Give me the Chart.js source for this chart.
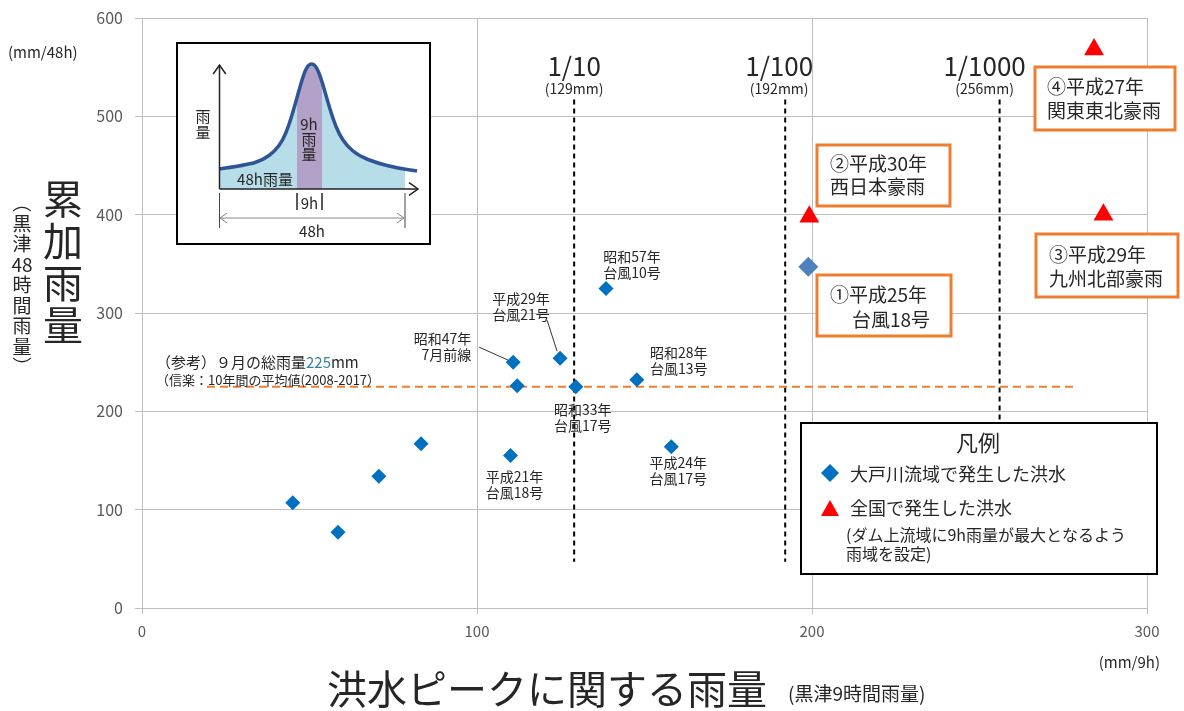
<!DOCTYPE html>
<html lang="ja">
<head>
<meta charset="utf-8">
<script src="https://cdn.jsdelivr.net/npm/chart.js@4/dist/chart.umd.min.js"></script>
<style>
  html, body { margin: 0; padding: 0; background: #fff; }
</style>
</head>
<body>
<canvas id="chart" width="1184" height="711"></canvas>
<script>
// 大戸川流域で発生した洪水 (9h雨量, 48h雨量)
const basinX = [45, 58.5, 70.7, 83.3, 110, 110.8, 112, 124.8, 129.5, 138.5, 147.7, 158];
const basinY = [107, 77, 134, 167, 155, 250, 226, 254, 225, 325, 232, 164];
// ①平成25年 台風18号
const caseX = [198.9];
const caseY = [347];
// 全国で発生した洪水 (②, ③, ④)
const nationalX = [199.2, 287, 284.2];
const nationalY = [398, 400, 568];
// 確率規模 (9h雨量)
const periodLabels = ['1/10', '1/100', '1/1000'];
const periodRain = [129, 192, 256];
// 9月の総雨量
const refRain = 225;

const FONT = '"Noto Sans CJK JP", "Noto Sans", sans-serif';
const TXT = '#262626';

// 点のラベル (basin index, 行, ずらし)
const pointLabels = [
  { i: 9, lines: ['昭和57年', '台風10号'], dx: 26, dy: -32 },
  { i: 7, lines: ['平成29年', '台風21号'], dx: -39, dy: -60, lead: [-13, -38, -3, -7] },
  { i: 5, lines: ['昭和47年', '7月前線'], dx: -42, dy: -23, align: 'right', lead: [-34, -15, -5, -2] },
  { i: 10, lines: ['昭和28年', '台風13号'], dx: 42, dy: -27 },
  { i: 8, lines: ['昭和33年', '台風17号'], dx: 7, dy: 23 },
  { i: 11, lines: ['平成24年', '台風17号'], dx: 7, dy: 16 },
  { i: 4, lines: ['平成21年', '台風18号'], dx: 4, dy: 21 }
];

const caseBoxes = [
  { box: [1035, 67, 140, 63], lines: ['④平成27年', '関東東北豪雨'], tx: [1047, 1047], ty: [87, 111] },
  { box: [817, 145, 133, 61], lines: ['②平成30年', '西日本豪雨'], tx: [830, 830], ty: [164, 187] },
  { box: [817, 275, 134, 61], lines: ['①平成25年', '台風18号'], tx: [830, 852], ty: [295, 320] },
  { box: [1036, 234, 142, 63], lines: ['③平成29年', '九州北部豪雨'], tx: [1049, 1049], ty: [255, 279] }
];

function text(ctx, s, x, y, size, opt = {}) {
  ctx.save();
  ctx.font = (opt.weight || 'normal') + ' ' + size + 'px ' + FONT;
  ctx.fillStyle = opt.color || TXT;
  ctx.textAlign = opt.align || 'left';
  ctx.textBaseline = 'middle';
  ctx.fillText(s, x, y);
  ctx.restore();
}

function vtext(ctx, chars, x, y0, step, size) {
  chars.forEach((c, k) => text(ctx, c, x, y0 + k * step, size, { align: 'center' }));
}

function line(ctx, x1, y1, x2, y2, color, w) {
  ctx.save();
  ctx.strokeStyle = color;
  ctx.lineWidth = w;
  ctx.beginPath();
  ctx.moveTo(x1, y1);
  ctx.lineTo(x2, y2);
  ctx.stroke();
  ctx.restore();
}

function chevron(ctx, x, y, dir, color, w, s) {
  ctx.save();
  ctx.strokeStyle = color;
  ctx.lineWidth = w;
  ctx.beginPath();
  if (dir === 'up') { ctx.moveTo(x - s * 0.7, y + s); ctx.lineTo(x, y); ctx.lineTo(x + s * 0.7, y + s); }
  if (dir === 'right') { ctx.moveTo(x - s, y - s * 0.7); ctx.lineTo(x, y); ctx.lineTo(x - s, y + s * 0.7); }
  if (dir === 'left') { ctx.moveTo(x + s, y - s * 0.7); ctx.lineTo(x, y); ctx.lineTo(x + s, y + s * 0.7); }
  ctx.stroke();
  ctx.restore();
}

function drawInset(ctx, ox, oy) {
  ctx.save();
  ctx.fillStyle = '#fff';
  ctx.fillRect(ox, oy, 253, 201);
  ctx.strokeStyle = '#000';
  ctx.lineWidth = 2;
  ctx.strokeRect(ox, oy, 253, 201);
  ctx.translate(ox, oy);

  const pts = [[42, 126], [70, 122], [86, 117], [98, 108], [106, 97], [112, 82], [118, 62], [124, 40],
    [129, 25], [134, 20], [139, 23], [144, 35], [150, 56], [156, 76], [162, 91], [170, 103],
    [182, 113], [200, 120], [220, 125], [240, 128]];
  const curve = (p) => {
    p.moveTo(pts[0][0], pts[0][1]);
    for (let k = 1; k < pts.length - 1; k++) {
      const mx = (pts[k][0] + pts[k + 1][0]) / 2, my = (pts[k][1] + pts[k + 1][1]) / 2;
      p.quadraticCurveTo(pts[k][0], pts[k][1], mx, my);
    }
    p.lineTo(pts[pts.length - 1][0], pts[pts.length - 1][1]);
  };
  const area = new Path2D();
  curve(area);
  area.lineTo(240, 146);
  area.lineTo(42, 146);
  area.closePath();

  ctx.save();
  ctx.beginPath();
  ctx.rect(42, 0, 186, 146);
  ctx.clip();
  ctx.fillStyle = '#B7DEE8';
  ctx.fill(area);
  ctx.restore();

  ctx.save();
  ctx.beginPath();
  ctx.rect(120, 0, 25, 146);
  ctx.clip();
  ctx.fillStyle = '#B3A2C7';
  ctx.fill(area);
  ctx.restore();

  const stroke = new Path2D();
  curve(stroke);
  ctx.strokeStyle = '#2F5597';
  ctx.lineWidth = 3.5;
  ctx.stroke(stroke);

  // 軸
  line(ctx, 42.5, 146, 42.5, 22, '#222', 1.5);
  chevron(ctx, 42.5, 22, 'up', '#222', 1.5, 9);
  line(ctx, 42.5, 146, 241, 146, '#222', 1.5);
  chevron(ctx, 241, 146, 'right', '#222', 1.5, 9);

  text(ctx, '雨', 26, 73, 15, { align: 'center' });
  text(ctx, '量', 26, 89, 15, { align: 'center' });
  text(ctx, '9h', 132, 81, 15, { align: 'center' });
  text(ctx, '雨', 132, 96, 15, { align: 'center' });
  text(ctx, '量', 132, 111, 15, { align: 'center' });
  text(ctx, '48h雨量', 88, 136, 15, { align: 'center' });

  line(ctx, 120, 150, 120, 167, '#222', 1.5);
  line(ctx, 145, 150, 145, 167, '#222', 1.5);
  text(ctx, '9h', 132.5, 160, 15, { align: 'center' });

  line(ctx, 42.5, 150, 42.5, 185, '#444', 1);
  line(ctx, 228, 150, 228, 185, '#444', 1);
  line(ctx, 43, 175, 227, 175, '#888', 1);
  chevron(ctx, 43, 175, 'left', '#888', 1, 7);
  chevron(ctx, 227, 175, 'right', '#888', 1, 7);
  text(ctx, '48h', 135, 188, 15, { align: 'center' });
  ctx.restore();
}

function drawLegend(ctx) {
  ctx.save();
  ctx.fillStyle = '#fff';
  ctx.fillRect(801, 423, 356, 151);
  ctx.strokeStyle = '#000';
  ctx.lineWidth = 2;
  ctx.strokeRect(801, 423, 356, 151);
  text(ctx, '凡例', 978, 443, 22, { align: 'center' });

  ctx.fillStyle = '#0070C0';
  ctx.beginPath();
  ctx.moveTo(830, 464); ctx.lineTo(839, 473); ctx.lineTo(830, 482); ctx.lineTo(821, 473);
  ctx.closePath();
  ctx.fill();
  text(ctx, '大戸川流域で発生した洪水', 850, 474, 18);

  ctx.fillStyle = '#FF0000';
  ctx.beginPath();
  ctx.moveTo(830, 500); ctx.lineTo(839, 516); ctx.lineTo(821, 516);
  ctx.closePath();
  ctx.fill();
  text(ctx, '全国で発生した洪水', 850, 508, 18);
  text(ctx, '(ダム上流域に9h雨量が最大となるよう', 846, 535, 16);
  text(ctx, '雨域を設定)', 846, 554, 16);
  ctx.restore();
}

const annotations = {
  id: 'annotations',
  afterDatasetsDraw(chart) {
    const { ctx, scales: { x, y } } = chart;

    // 確率規模ラベル
    periodLabels.forEach((lab, k) => {
      const off = [0, -6, -15][k];
      const px = x.getPixelForValue(periodRain[k]) + off;
      text(ctx, lab, px, 66, 26, { align: 'center' });
      text(ctx, '(' + periodRain[k] + 'mm)', px, 89, 14, { align: 'center' });
    });

    // 参考値
    ctx.save();
    ctx.font = '15px ' + FONT;
    const s1 = '（参考）９月の総雨量';
    const w1 = ctx.measureText(s1).width;
    const w2 = ctx.measureText(String(refRain)).width;
    ctx.restore();
    text(ctx, s1, 156, 362, 15);
    text(ctx, String(refRain), 156 + w1, 362, 15, { color: '#31849B' });
    text(ctx, 'mm', 156 + w1 + w2, 362, 15);
    text(ctx, '（信楽：10年間の平均値(2008-2017）', 156, 380, 13);

    // 点ラベル
    pointLabels.forEach(p => {
      const px = x.getPixelForValue(basinX[p.i]);
      const py = y.getPixelForValue(basinY[p.i]);
      p.lines.forEach((l, k) => text(ctx, l, px + p.dx, py + p.dy + k * 16, 14, { align: p.align || 'center' }));
      if (p.lead) line(ctx, px + p.lead[0], py + p.lead[1], px + p.lead[2], py + p.lead[3], '#333', 1);
    });

    // 事例ボックス
    caseBoxes.forEach(b => {
      ctx.save();
      ctx.fillStyle = '#fff';
      ctx.fillRect(b.box[0], b.box[1], b.box[2], b.box[3]);
      ctx.strokeStyle = '#ED7D31';
      ctx.lineWidth = 3;
      ctx.strokeRect(b.box[0], b.box[1], b.box[2], b.box[3]);
      ctx.restore();
      b.lines.forEach((l, k) => text(ctx, l, b.tx[k], b.ty[k], 19));
    });

    drawInset(ctx, 177, 43);
    drawLegend(ctx);
  },
  afterDraw(chart) {
    const ctx = chart.ctx;
    text(ctx, '(mm/48h)', 8, 52, 15);
    vtext(ctx, ['累', '加', '雨', '量'], 63, 199, 42, 40);
    vtext(ctx, ['︵', '黒', '津', '48', '時', '間', '雨', '量', '︶'], 22, 203, 20.5, 19);
    text(ctx, '(mm/9h)', 1160, 662, 15, { align: 'right' });
    text(ctx, '洪水ピークに関する雨量', 327, 689, 40);
    text(ctx, '(黒津9時間雨量)', 788, 694, 19);
  }
};

const toPts = (xs, ys) => xs.map((v, k) => ({ x: v, y: ys[k] }));

const datasets = [
  {
    data: toPts(basinX, basinY),
    pointStyle: 'rectRot', pointRadius: 7.5, backgroundColor: '#0070C0', borderWidth: 0, order: 0
  },
  {
    data: toPts(caseX, caseY),
    pointStyle: 'rectRot', pointRadius: 10, backgroundColor: '#4F81BD', borderWidth: 0, order: 0
  },
  {
    data: toPts(nationalX, nationalY),
    pointStyle: 'triangle', pointRadius: 11.5, backgroundColor: '#FF0000', borderWidth: 0, order: 0
  },
  {
    data: [{ x: 19.4, y: refRain }, { x: 279.4, y: refRain }],
    showLine: true, pointRadius: 0, borderColor: '#ED7D31', borderWidth: 2, borderDash: [8, 5], order: 2
  }
];
periodRain.forEach(v => {
  datasets.push({
    data: [{ x: v, y: 517 }, { x: v, y: 47 }],
    showLine: true, pointRadius: 0, borderColor: '#000', borderWidth: 2, borderDash: [5, 4], order: 2
  });
});

new Chart(document.getElementById('chart'), {
  type: 'scatter',
  data: { datasets },
  options: {
    responsive: false,
    animation: false,
    events: [],
    layout: { padding: { top: 18, right: 37, left: 0, bottom: 0 } },
    plugins: { legend: { display: false }, tooltip: { enabled: false } },
    scales: {
      x: {
        min: 0, max: 300,
        ticks: { stepSize: 100, color: '#595959', font: { family: FONT, size: 15 }, padding: 8 },
        grid: { color: '#BFBFBF', tickLength: 6 },
        border: { color: '#BFBFBF' },
        afterFit(s) { s.height = 103; }
      },
      y: {
        min: 0, max: 600,
        ticks: { stepSize: 100, color: '#595959', font: { family: FONT, size: 16 }, padding: 12 },
        grid: { color: '#BFBFBF', tickLength: 7 },
        border: { color: '#BFBFBF' },
        afterFit(s) { s.width = 142; s.paddingTop = 0; s.paddingBottom = 0; }
      }
    }
  },
  plugins: [annotations]
});
</script>
</body>
</html>
